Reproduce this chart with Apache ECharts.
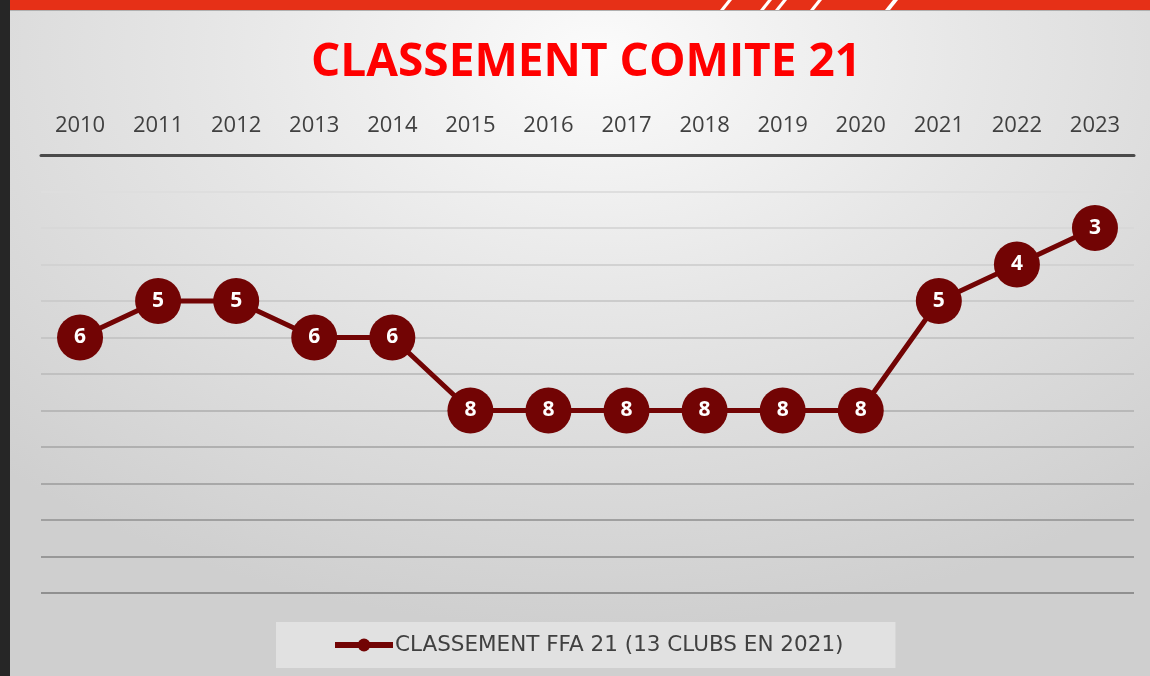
<!DOCTYPE html>
<html>
<head>
<meta charset="utf-8">
<script src="https://cdn.jsdelivr.net/npm/echarts@6/dist/echarts.min.js"></script>
<style>
  html, body { margin: 0; padding: 0; }
  #chart {
    width: 1150px; height: 676px;
    background: radial-gradient(ellipse 75% 85% at 52% 8%, #fbfbfb 0%, #e6e6e6 45%, #cfcfcf 100%);
  }
</style>
</head>
<body>
<div id="chart"></div>
<script>
// données
const years = ['2010', '2011', '2012', '2013', '2014', '2015', '2016', '2017', '2018', '2019', '2020', '2021', '2022', '2023'];
const ranks = [6, 5, 5, 6, 6, 8, 8, 8, 8, 8, 8, 5, 4, 3];
const seriesName = 'CLASSEMENT FFA 21 (13 CLUBS EN 2021)';
const titleText = 'CLASSEMENT COMITE 21';

const gridColors = ['#555', '#dedede', '#d8d8d8', '#d2d2d2', '#cccccc', '#c6c6c6', '#c0c0c0',
                    '#b8b8b8', '#b0b0b0', '#a8a8a8', '#a0a0a0', '#989898', '#909090'];

const myChart = echarts.init(document.getElementById('chart'));

// bandeau rouge avec les rayures
const stripes = [[720, 4], [760, 4], [775, 4], [810, 4], [885, 5]].map(function (s) {
    return {
        type: 'polygon',
        shape: { points: [[s[0] + 8, 0], [s[0] + 8 + s[1], 0], [s[0] + s[1], 10], [s[0], 10]] },
        style: { fill: '#fff' }
    };
});

const option = {
    backgroundColor: 'transparent',
    title: {
        text: titleText,
        left: 306,
        top: 35,
        textStyle: {
            color: '#ff0000',
            fontFamily: 'Open Sans',
            fontWeight: 'bold',
            fontSize: 46
        }
    },
    graphic: [
        { type: 'rect', shape: { x: 0, y: 0, width: 1150, height: 10 }, style: { fill: '#e63017' } },
        { type: 'rect', shape: { x: 0, y: 10, width: 1150, height: 1 }, style: { fill: '#b0b0b0' } },
        { type: 'rect', shape: { x: 0, y: 0, width: 10, height: 676 }, style: { fill: '#262626' } }
    ].concat(stripes),
    legend: {
        top: 622,
        left: 276,
        backgroundColor: '#e1e1e1',
        padding: [12, 52, 12, 56],
        itemWidth: 58,
        itemHeight: 16,
        itemGap: 0,
        lineStyle: { width: 6 },
        textStyle: {
            color: '#404040',
            fontFamily: 'DejaVu Sans',
            fontSize: 21.5,
            padding: [0, 0, 0, -3]
        },
        data: [seriesName]
    },
    grid: {
        left: 41,
        right: 16,
        top: 155,
        bottom: 83
    },
    xAxis: {
        type: 'category',
        position: 'top',
        data: years,
        boundaryGap: true,
        axisLine: { show: true, lineStyle: { color: '#4a4a4a', width: 3 } },
        axisTick: { show: false },
        axisLabel: {
            interval: 0,
            margin: 18,
            color: '#404040',
            fontFamily: 'Open Sans',
            fontSize: 22
        }
    },
    yAxis: {
        type: 'value',
        inverse: true,
        min: 1,
        max: 13,
        interval: 1,
        axisLine: { show: false },
        axisTick: { show: false },
        axisLabel: { show: false },
        splitLine: { lineStyle: { color: gridColors, width: 2 } }
    },
    series: [{
        name: seriesName,
        type: 'line',
        data: ranks,
        symbol: 'circle',
        symbolSize: 46,
        lineStyle: { color: '#720404', width: 5 },
        itemStyle: { color: '#720404' },
        label: {
            show: true,
            position: 'inside',
            color: '#fff',
            fontFamily: 'Open Sans',
            fontWeight: 'bold',
            fontSize: 21
        },
        z: 3
    }]
};

myChart.setOption(option);
</script>
</body>
</html>
